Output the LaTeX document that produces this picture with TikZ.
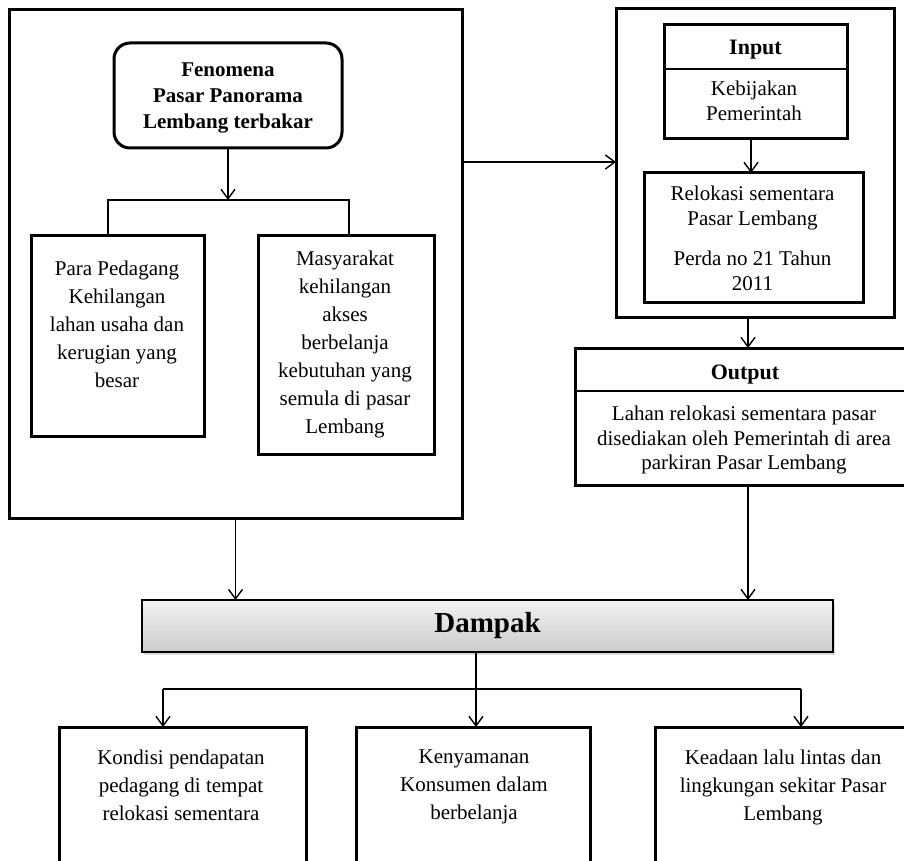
\documentclass[tikz,border=0pt]{standalone}
\usepackage{fontspec}
\setmainfont{Liberation Serif}
\usetikzlibrary{arrows.meta,shadows,calc}
\begin{document}
\begin{tikzpicture}[x=1pt,y=-1pt,
  box/.style={draw, line width=3pt, inner sep=0pt, outer sep=0pt},
  conn/.style={line width=1.4pt},
  arr/.style={conn, -{Straight Barb[length=9.5pt,width=14pt]}},
  txt/.style={inner sep=0pt, align=center, anchor=north, font=\fontsize{21}{28}\selectfont},
  head/.style={inner sep=0pt, align=center, anchor=north, font=\bfseries\fontsize{22}{26}\selectfont},
  mid/.style={inner sep=0pt, align=center, anchor=north, font=\fontsize{21}{24.5}\selectfont}
]
\useasboundingbox (0,0) rectangle (904,861);
\clip (0,0) rectangle (904,861);
\fill[white] (0,0) rectangle (904,861);

% left block
\node[box, minimum width=453pt, minimum height=508pt] (L) at (235.5,264) {};
\node[box, rounded corners=16pt, minimum width=228pt, minimum height=105pt] (F) at (228,95.5) {};
\node[txt, font=\bfseries\fontsize{21}{26}\selectfont] (Ft) at (228,63) {Fenomena\\Pasar Panorama\\Lembang terbakar};
\node[box, minimum width=173pt, minimum height=201pt] (P) at (117.5,335.5) {};
\node[txt] (Pt) at (117,261) {Para Pedagang\\Kehilangan\\lahan usaha dan\\kerugian yang\\besar};
\node[box, minimum width=176pt, minimum height=219pt] (M) at (346,344.5) {};
\node[txt] (Mt) at (345,251) {Masyarakat\\kehilangan\\akses\\berbelanja\\kebutuhan yang\\semula di pasar\\Lembang};
\coordinate (fb) at (228,200);
\coordinate (bl) at (108,200);
\coordinate (br) at (349,200);
\draw[arr] (F.south) -- (fb);
\draw[conn] (bl |- P.north) -- (bl) -- (br) -- (br |- M.north);

% right block
\node[box, minimum width=278pt, minimum height=308pt] (R) at (755,163) {};
\node[box, minimum width=183pt, minimum height=114pt] (I) at (755.5,82) {};
\coordinate (idiv) at (0,69);
\draw[conn] (I.west |- idiv) -- (I.east |- idiv);
\node[head] (It) at (755.5,40) {Input};
\node[mid] (Kt) at (754,81) {Kebijakan\\Pemerintah};
\node[box, minimum width=219pt, minimum height=129pt] (Rl) at (753.5,237.5) {};
\node[mid] (Rlt) at (752.5,186) {Relokasi sementara\\Pasar Lembang\\[16pt]Perda no 21 Tahun\\2011};
\draw[arr] ([xshift=-4.5pt]I.south) -- ([xshift=-4.5pt]I.south |- Rl.north);

\draw[arr] ([yshift=102pt]L.east) -- ([yshift=102pt]L.east -| R.west);

% output
\node[box, minimum width=338pt, minimum height=137pt] (O) at (744,416.5) {};
\coordinate (odiv) at (0,391);
\draw[conn] (O.west |- odiv) -- (O.east |- odiv);
\node[head] (Ot) at (745,365) {Output};
\node[mid] (Ott) at (744,406) {Lahan relokasi sementara pasar\\disediakan oleh Pemerintah di area\\parkiran Pasar Lembang};
\draw[arr] ([xshift=-7pt]R.south) -- ([xshift=-7pt]R.south |- O.north);

% dampak
\node[box, line width=1.8pt, minimum width=691pt, minimum height=52pt, top color=gray!10, bottom color=gray!40, drop shadow={opacity=0.3, shadow xshift=2pt, shadow yshift=-2.5pt}] (D) at (487.5,626) {};
\node[inner sep=0pt, anchor=base, font=\bfseries\fontsize{29}{32}\selectfont] (Dt) at (487.5,632) {Dampak};
\draw[arr] (L.south) -- (L.south |- D.north);
\draw[arr] ([xshift=4pt]O.south) -- ([xshift=4pt]O.south |- D.north);

% bottom boxes
\node[box, minimum width=247pt, minimum height=153pt] (B1) at (182.5,803.5) {};
\node[box, minimum width=234pt, minimum height=153pt] (B2) at (473,803.5) {};
\node[box, minimum width=256pt, minimum height=153pt] (B3) at (783,803.5) {};
\node[txt] (B1t) at (181,750) {Kondisi pendapatan\\pedagang di tempat\\relokasi sementara};
\node[txt] (B2t) at (474,750) {Kenyamanan\\Konsumen dalam\\berbelanja};
\node[txt] (B3t) at (783,750) {Keadaan lalu lintas dan\\lingkungan sekitar Pasar\\Lembang};
\coordinate (j) at (476,689);
\coordinate (jl) at (163,689);
\coordinate (jr) at (801,689);
\draw[conn] (j |- D.south) -- (j);
\draw[conn] (jl) -- (jr);
\draw[arr] (jl) -- (jl |- B1.north);
\draw[arr] (j) -- (j |- B2.north);
\draw[arr] (jr) -- (jr |- B3.north);
\end{tikzpicture}
\end{document}
